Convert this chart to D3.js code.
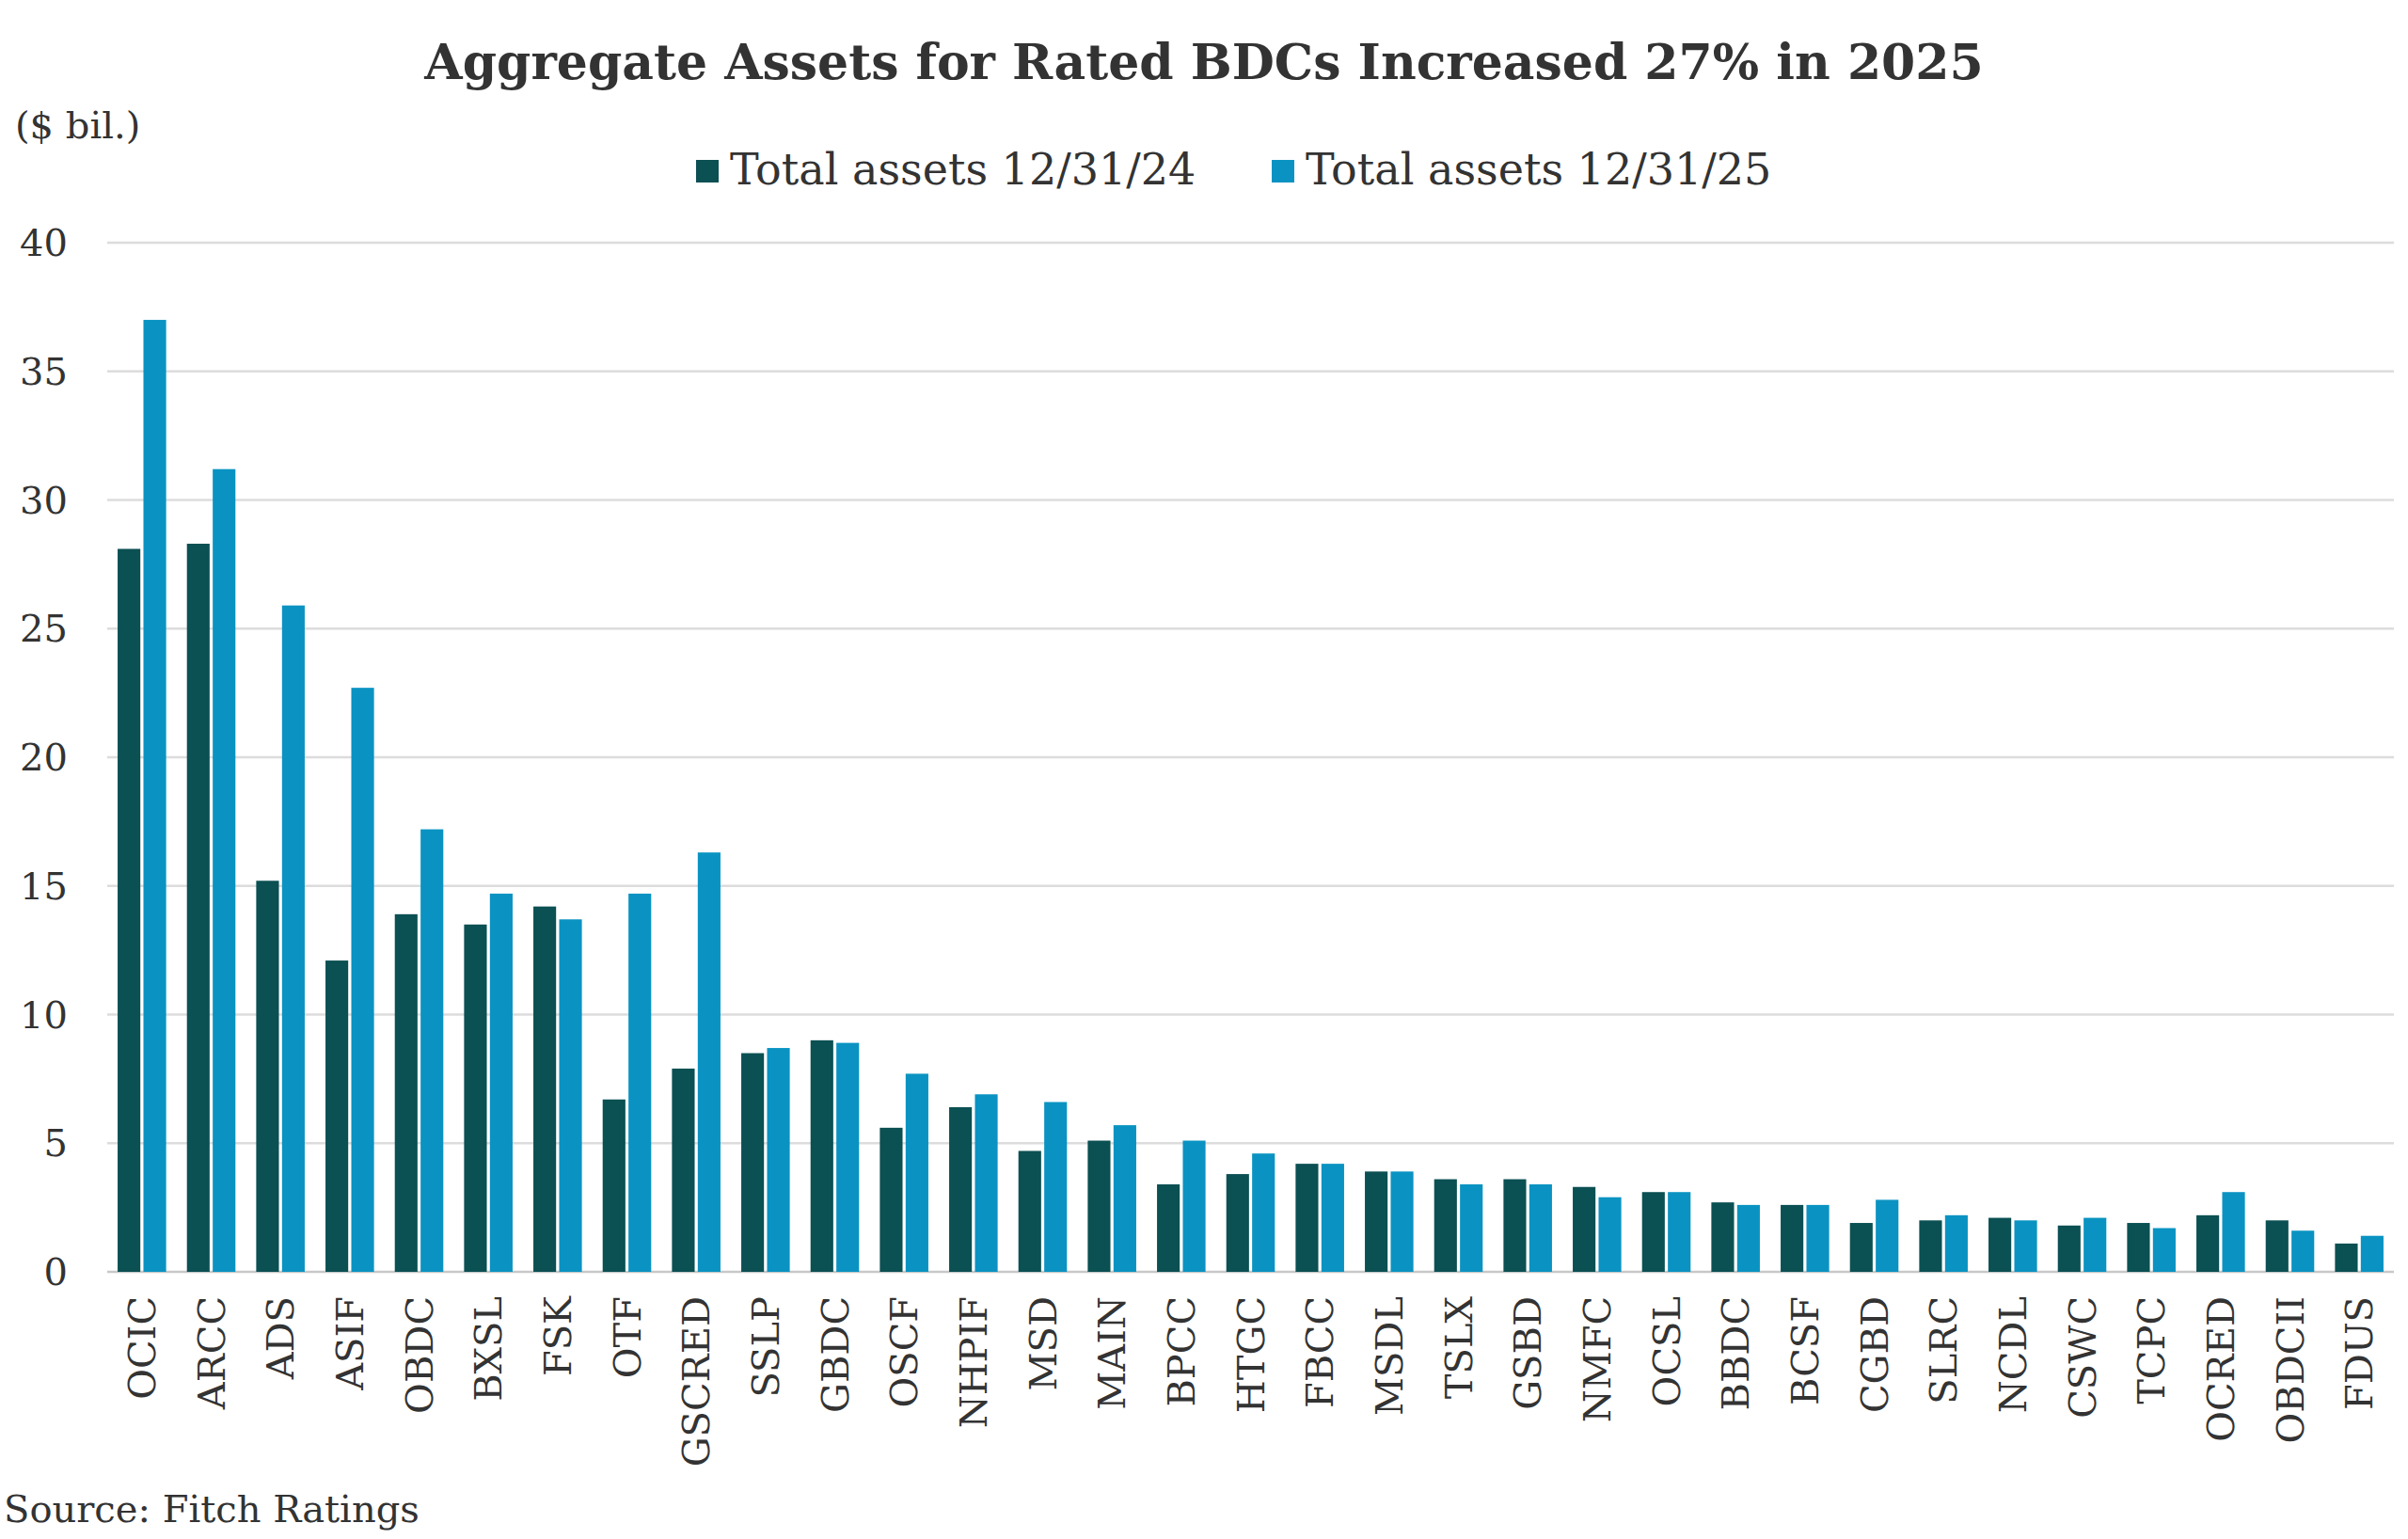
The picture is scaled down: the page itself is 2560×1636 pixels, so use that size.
<!DOCTYPE html><html><head><meta charset="utf-8"><script src="https://cdn.jsdelivr.net/npm/d3@7"></script>
<style>body{margin:0;background:#fff}</style></head><body><svg id="c" width="2560" height="1636"></svg>
<script>
const categories=["OCIC","ARCC","ADS","ASIF","OBDC","BXSL","FSK","OTF","GSCRED","SSLP","GBDC","OSCF","NHPIF","MSD","MAIN","BPCC","HTGC","FBCC","MSDL","TSLX","GSBD","NMFC","OCSL","BBDC","BCSF","CGBD","SLRC","NCDL","CSWC","TCPC","OCRED","OBDCII","FDUS"];
const assets2024=[28.1,28.3,15.2,12.1,13.9,13.5,14.2,6.7,7.9,8.5,9.0,5.6,6.4,4.7,5.1,3.4,3.8,4.2,3.9,3.6,3.6,3.3,3.1,2.7,2.6,1.9,2.0,2.1,1.8,1.9,2.2,2.0,1.1];
const assets2025=[37.0,31.2,25.9,22.7,17.2,14.7,13.7,14.7,16.3,8.7,8.9,7.7,6.9,6.6,5.7,5.1,4.6,4.2,3.9,3.4,3.4,2.9,3.1,2.6,2.6,2.8,2.2,2.0,2.1,1.7,3.1,1.6,1.4];
const yTicks=[0,5,10,15,20,25,30,35,40];
const series=["Total assets 12/31/24","Total assets 12/31/25"];
const colors=["#0b5053","#0a93c2"];
const font="DejaVu Serif, Georgia, serif";
const svg=d3.select("#c");
const L=114,R=2545,T=258,B=1352;
const x=d3.scaleBand().domain(categories).range([L,R]).paddingInner(0.3).paddingOuter(0.15);
const xs=d3.scaleBand().domain([0,1]).range([0,x.bandwidth()]).paddingInner(0.12);
const y=d3.scaleLinear().domain([0,40]).range([B,T]);
svg.append("g").selectAll("line").data(yTicks).join("line").attr("x1",L).attr("x2",R)
 .attr("y1",d=>y(d)).attr("y2",d=>y(d)).attr("stroke",d=>d===0?"#c8c8c8":"#dcdcdc").attr("stroke-width",2.5);
svg.append("g").selectAll("text").data(yTicks).join("text").attr("x",72).attr("y",d=>y(d)+14).attr("text-anchor","end")
 .attr("font-family",font).attr("font-size",40).attr("fill","#333").text(d=>d);
[assets2024,assets2025].forEach((vals,s)=>{
 svg.append("g").selectAll("rect").data(vals).join("rect").attr("x",(d,i)=>x(categories[i])+xs(s)).attr("width",xs.bandwidth())
  .attr("y",d=>y(d)).attr("height",d=>y(0)-y(d)).attr("fill",colors[s]);
});
svg.append("g").selectAll("text").data(categories).join("text")
 .attr("transform",d=>`translate(${x(d)+x.bandwidth()/2+14},1378) rotate(-90)`).attr("text-anchor","end")
 .attr("font-family",font).attr("font-size",40).attr("fill","#333").text(d=>d);
svg.append("text").attr("x",1280).attr("y",84).attr("text-anchor","middle").attr("font-family",font).attr("font-weight","bold")
 .attr("font-size",52).attr("fill","#333").text("Aggregate Assets for Rated BDCs Increased 27% in 2025");
svg.append("text").attr("x",16).attr("y",147).attr("font-family",font).attr("font-size",40).attr("fill","#333").text("($ bil.)");
const lx=[740,1352];
series.forEach((s,i)=>{
 svg.append("rect").attr("x",lx[i]).attr("y",170).attr("width",24).attr("height",24).attr("fill",colors[i]);
 svg.append("text").attr("x",lx[i]+36).attr("y",196).attr("font-family",font).attr("font-size",46).attr("fill","#333").text(s);
});
svg.append("text").attr("x",4).attr("y",1618).attr("font-family",font).attr("font-size",40).attr("fill","#333").text("Source: Fitch Ratings");
</script></body></html>
